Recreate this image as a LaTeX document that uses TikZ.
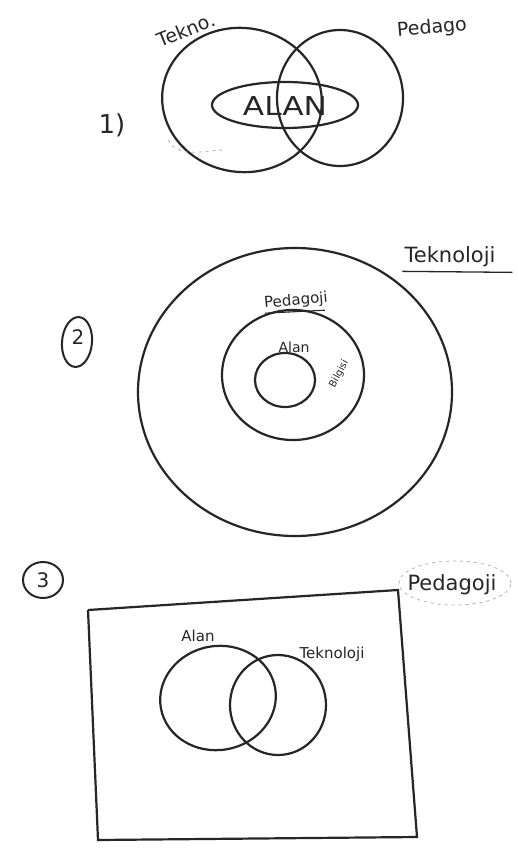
\documentclass[tikz,border=0pt]{standalone}
\usepackage{fontspec}
\setmainfont{DejaVu Sans}
\usetikzlibrary{shapes.geometric}
\tikzset{
  ink/.style={draw=black!85, line width=2.2pt},
  ring/.style={ink, ellipse, inner sep=0pt},
  lbl/.style={text=black!85, inner sep=0pt},
  faint/.style={draw=black!30, line width=0.8pt, dash pattern=on 3pt off 4pt},
}
\begin{document}
\begin{tikzpicture}[x=1pt,y=-1pt]
\useasboundingbox (0,0) rectangle (518,850);
\fill[white] (0,0) rectangle (518,850);

% ---------- 1 ----------
\node[ring, minimum width=160pt, minimum height=144pt, rotate=-8] (tek1) at (242,100) {};
\node[ring, minimum width=126pt, minimum height=136pt] (ped1) at (340,98) {};
\node[ring, minimum width=146pt, minimum height=46pt] (alan1) at (285,105) {};
\node[lbl, font=\fontsize{26}{26}\selectfont, xscale=1.2] (alant1) at (285,106) {ALAN};
\node[lbl, font=\fontsize{19}{19}\selectfont, rotate=22] (tekl1) at (186,30) {Tekno.};
\node[lbl, font=\fontsize{19}{19}\selectfont, rotate=5] (pedl1) at (432,28) {Pedago};
\node[lbl, font=\fontsize{26}{26}\selectfont] (n1) at (112,125) {1)};
\draw[faint] (168,140) to[out=-60,in=180] (225,150);

% ---------- 2 ----------
\node[ring, minimum width=314pt, minimum height=288pt] (tek2) at (295,392) {};
\node[ring, minimum width=142pt, minimum height=130pt] (ped2) at (293,375) {};
\node[ring, minimum width=60pt, minimum height=54pt] (alan2) at (285,380) {};
\node[lbl, font=\fontsize{21}{21}\selectfont] (tekl2) at (450,257) {Teknoloji};
\draw[ink, line width=1.3pt] (tekl2.south west) ++(-2,4) -- ++(110,1);
\node[lbl, font=\fontsize{15}{15}\selectfont, rotate=5] (pedl2) at (296,301) {Pedagoji};
\draw[ink, line width=1.1pt] (pedl2.south west) ++(0,2) -- ++(60,-3);
\node[lbl, font=\fontsize{14}{14}\selectfont] (alanl2) at (294,347) {Alan};
\node[lbl, font=\fontsize{10}{10}\selectfont, rotate=62] (bil2) at (339,374) {Bilgisi};
\node[ring, line width=2pt, minimum width=30pt, minimum height=50pt, rotate=-5] (c2) at (77,342) {};
\node[lbl, font=\fontsize{20}{20}\selectfont] (n2) at (78,337) {2};

% ---------- 3 ----------
\coordinate (r1) at (88,610);
\coordinate (r2) at (398,590);
\coordinate (r3) at (417,837);
\coordinate (r4) at (98,840);
\draw[ink] (r1) -- (r2) -- (r3) -- (r4) -- (r1);
\node[ring, minimum width=116pt, minimum height=104pt, rotate=10] (alan3) at (218,698) {};
\node[ring, minimum width=96pt, minimum height=100pt] (tek3) at (278,705) {};
\node[lbl, font=\fontsize{15}{15}\selectfont] (alanl3) at (198,636) {Alan};
\node[lbl, font=\fontsize{15}{15}\selectfont] (tekl3) at (332,654) {Teknoloji};
\node[lbl, font=\fontsize{21}{21}\selectfont] (pedl3) at (452,585) {Pedagoji};
\node[faint, ellipse, minimum width=112pt, minimum height=44pt, inner sep=0pt] (pedc3) at (455,583) {};
\node[ring, line width=2pt, minimum width=40pt, minimum height=36pt] (c3) at (43,580) {};
\node[lbl, font=\fontsize{20}{20}\selectfont] (n3) at (43,580) {3};
\end{tikzpicture}
\end{document}
